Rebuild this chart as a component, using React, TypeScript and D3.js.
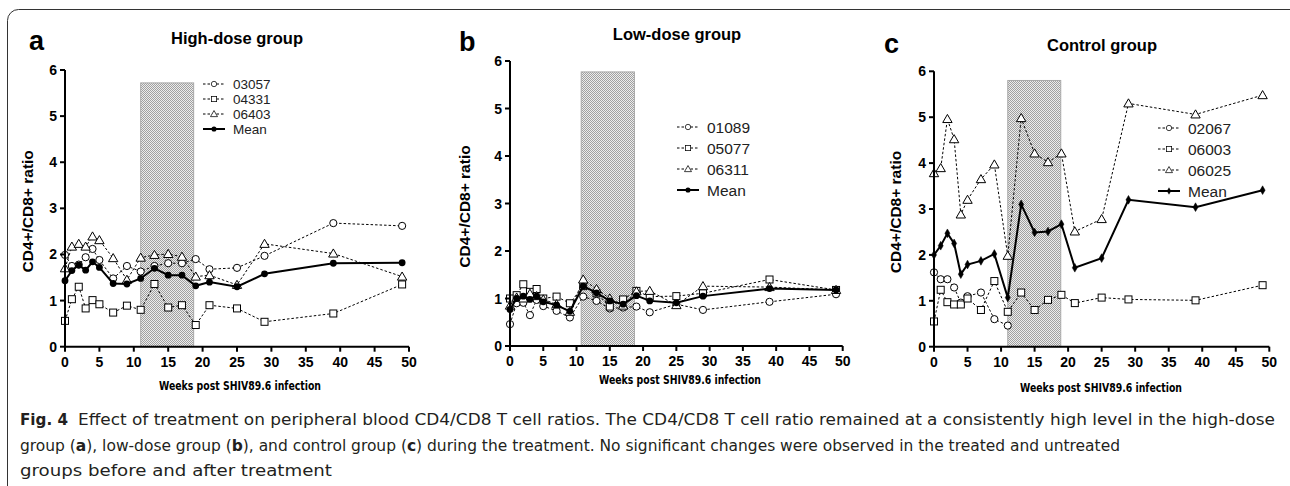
import React from "react";
import * as d3 from "d3";

// sampling weeks (same for every animal, 02067 died after week 11)
const weeks = [0, 1, 2, 3, 4, 5, 7, 9, 11, 13, 15, 17, 19, 21, 25, 29, 39, 49];
const weeks02067 = [0, 1, 2, 3, 4, 5, 7, 9, 11];

const xTicks = [0, 5, 10, 15, 20, 25, 30, 35, 40, 45, 50];
const yTicks = [0, 1, 2, 3, 4, 5, 6];

// high-dose group
const a03057 = [1.99, 1.75, 1.78, 1.94, 2.12, 1.88, 1.48, 1.75, 1.63, 1.75, 1.81, 1.81, 1.9, 1.68, 1.71, 1.97, 2.68, 2.62];
const a04331 = [0.56, 1.03, 1.3, 0.83, 1.01, 0.92, 0.74, 0.89, 0.8, 1.36, 0.85, 0.9, 0.47, 0.9, 0.83, 0.54, 0.72, 1.35];
const a06403 = [1.7, 2.17, 2.23, 2.17, 2.39, 2.31, 1.92, 1.45, 1.93, 1.99, 2.01, 1.95, 1.52, 1.55, 1.34, 2.23, 2.02, 1.52];
const aMean = [1.43, 1.65, 1.77, 1.66, 1.84, 1.72, 1.37, 1.36, 1.48, 1.7, 1.55, 1.55, 1.32, 1.4, 1.3, 1.58, 1.81, 1.82];

// low-dose group
const b01089 = [0.46, 0.9, 0.91, 0.65, 0.97, 0.84, 0.74, 0.6, 1.04, 0.95, 0.79, 0.81, 0.83, 0.71, 0.88, 0.76, 0.93, 1.09];
const b05077 = [1.0, 1.07, 1.3, 1.14, 1.2, 1.0, 1.04, 0.9, 1.26, 1.11, 0.83, 0.98, 1.16, 1.04, 1.05, 1.11, 1.4, 1.18];
const b06311 = [0.85, 1.02, 1.0, 1.1, 1.05, 0.98, 0.88, 0.72, 1.4, 1.2, 1.0, 0.85, 1.15, 1.16, 0.86, 1.26, 1.24, 1.18];
const bMean = [0.77, 1.0, 1.05, 0.98, 1.05, 0.93, 0.86, 0.73, 1.26, 1.12, 0.95, 0.88, 1.06, 0.95, 0.91, 1.05, 1.21, 1.18];

// control group
const c02067 = [1.62, 1.47, 1.47, 1.29, 0.96, 1.1, 1.18, 0.6, 0.46];
const c06003 = [0.55, 1.24, 0.97, 0.92, 0.92, 1.05, 0.8, 1.43, 0.76, 1.18, 0.8, 1.02, 1.13, 0.95, 1.07, 1.03, 1.01, 1.34];
const c06025 = [3.78, 3.89, 4.96, 4.52, 2.88, 3.2, 3.65, 3.97, 1.98, 4.98, 4.21, 4.02, 4.21, 2.51, 2.78, 5.3, 5.06, 5.48];
const cMean = [2.0, 2.2, 2.47, 2.25, 1.58, 1.79, 1.87, 2.02, 1.07, 3.1, 2.49, 2.51, 2.67, 1.72, 1.93, 3.2, 3.04, 3.41];

const ARIAL = "'Liberation Sans', Arial, sans-serif";
const NARROW = "'Liberation Sans Narrow', 'DejaVu Sans Condensed', sans-serif";

type Shape = "circle" | "square" | "triangle" | "dot" | "diamond";
type Series = { name: string; x: number[]; y: number[]; shape: Shape };

function Marker({ shape, x, y }: { shape: Shape; x: number; y: number }) {
  if (shape === "circle") return <circle cx={x} cy={y} r={3.6} fill="#fff" stroke="#000" strokeWidth={1} />;
  if (shape === "square") return <rect x={x - 3.5} y={y - 3.5} width={7} height={7} fill="#fff" stroke="#000" strokeWidth={1} />;
  if (shape === "dot") return <circle cx={x} cy={y} r={3.4} fill="#000" />;
  const type = shape === "triangle" ? d3.symbolTriangle : d3.symbolDiamond;
  const size = shape === "triangle" ? 38 : 22;
  const d = d3.symbol().type(type).size(size)() || "";
  return (
    <path
      d={d}
      transform={`translate(${x},${y + (shape === "triangle" ? 0.8 : 0)})`}
      fill={shape === "triangle" ? "#fff" : "#000"}
      stroke="#000"
      strokeWidth={shape === "triangle" ? 1 : 0.5}
    />
  );
}

type PanelCfg = {
  id: string;
  letter: string;
  letterX: number;
  letterY: number;
  title: string;
  titleX: number;
  titleY: number;
  x0: number;
  x50: number;
  yZero: number;
  ySix: number;
  shade: [number, number, number];
  legendX: number;
  legendY: number;
  legendStep: number;
  legendFont: number;
  yLabelX: number;
  xLabelX: number;
  xLabelY: number;
  series: Series[];
};

function Panel({ cfg }: { cfg: PanelCfg }) {
  const x = d3.scaleLinear().domain([0, 50]).range([cfg.x0, cfg.x50]);
  const y = d3.scaleLinear().domain([0, 6]).range([cfg.yZero, cfg.ySix]);
  const line = d3
    .line<[number, number]>()
    .x((d) => x(d[0]))
    .y((d) => y(d[1]));
  const [s0, s1, sTop] = cfg.shade;
  const yMid = (cfg.yZero + cfg.ySix) / 2 + 3;

  return (
    <g>
      <text x={cfg.letterX} y={cfg.letterY} fontFamily={ARIAL} fontWeight="bold" fontSize={27}>
        {cfg.letter}
      </text>
      <text x={cfg.titleX} y={cfg.titleY} textAnchor="middle" fontFamily={ARIAL} fontWeight="bold" fontSize={16.5}>
        {cfg.title}
      </text>

      {/* treatment period */}
      <rect
        x={x(s0)}
        y={y(sTop)}
        width={x(s1) - x(s0)}
        height={y(0) - y(sTop)}
        fill="url(#checker)"
        stroke="#a8a8a8"
        strokeWidth={1}
      />

      {cfg.series.map((s) => {
        const pts = s.x.map((w, i) => [w, s.y[i]] as [number, number]);
        const isMean = s.shape === "dot" || s.shape === "diamond";
        return (
          <g key={s.name}>
            <path
              d={line(pts) || ""}
              fill="none"
              stroke="#000"
              strokeWidth={isMean ? 2 : 1}
              strokeDasharray={isMean ? undefined : "2.5,2"}
            />
            {pts.map((p, i) => (
              <Marker key={i} shape={s.shape} x={x(p[0])} y={y(p[1])} />
            ))}
          </g>
        );
      })}

      {/* axes */}
      <line x1={x(0)} x2={x(50)} y1={y(0)} y2={y(0)} stroke="#000" strokeWidth={2} />
      <line x1={x(0)} x2={x(0)} y1={y(0) + 1} y2={y(6)} stroke="#000" strokeWidth={2} />
      {xTicks.map((t) => (
        <g key={"x" + t}>
          <line x1={x(t)} x2={x(t)} y1={y(0)} y2={y(0) + 5} stroke="#000" strokeWidth={2} />
          <text x={x(t)} y={y(0) + 20} textAnchor="middle" fontFamily={ARIAL} fontWeight="bold" fontSize={14}>
            {t}
          </text>
        </g>
      ))}
      {yTicks.map((t) => (
        <g key={"y" + t}>
          <line x1={x(0) - 5} x2={x(0)} y1={y(t)} y2={y(t)} stroke="#000" strokeWidth={2} />
          <text x={x(0) - 8} y={y(t) + 5} textAnchor="end" fontFamily={ARIAL} fontWeight="bold" fontSize={14}>
            {t}
          </text>
        </g>
      ))}

      <text
        transform={`translate(${cfg.yLabelX},${yMid}) rotate(-90)`}
        textAnchor="middle"
        fontFamily={ARIAL}
        fontWeight="bold"
        fontSize={15.5}
      >
        CD4+/CD8+ ratio
      </text>
      <text
        x={cfg.xLabelX}
        y={cfg.xLabelY}
        textAnchor="middle"
        fontFamily={NARROW}
        fontWeight="bold"
        fontSize={13}
        textLength={162}
        lengthAdjust="spacingAndGlyphs"
      >
        Weeks post SHIV89.6 infection
      </text>

      {/* legend */}
      {cfg.series.map((s, i) => {
        const ly = cfg.legendY + i * cfg.legendStep;
        const isMean = s.shape === "dot" || s.shape === "diamond";
        return (
          <g key={"lg" + s.name}>
            <line
              x1={cfg.legendX}
              x2={cfg.legendX + 22}
              y1={ly}
              y2={ly}
              stroke="#000"
              strokeWidth={isMean ? 2 : 1}
              strokeDasharray={isMean ? undefined : "2.5,2"}
            />
            <g transform={`translate(${cfg.legendX + 11},${ly}) scale(0.75)`}>
              <Marker shape={s.shape} x={0} y={0} />
            </g>
            <text x={cfg.legendX + 30} y={ly + cfg.legendFont * 0.36} fontFamily={ARIAL} fontSize={cfg.legendFont} fill="#222">
              {s.name}
            </text>
          </g>
        );
      })}
    </g>
  );
}

const panels: PanelCfg[] = [
  {
    id: "a",
    letter: "a",
    letterX: 29,
    letterY: 50,
    title: "High-dose group",
    titleX: 237,
    titleY: 44,
    x0: 65,
    x50: 409,
    yZero: 346.7,
    ySix: 70,
    shade: [11, 18.7, 5.72],
    legendX: 203,
    legendY: 84,
    legendStep: 15,
    legendFont: 13.5,
    yLabelX: 33,
    xLabelX: 240,
    xLabelY: 390,
    series: [
      { name: "03057", x: weeks, y: a03057, shape: "circle" },
      { name: "04331", x: weeks, y: a04331, shape: "square" },
      { name: "06403", x: weeks, y: a06403, shape: "triangle" },
      { name: "Mean", x: weeks, y: aMean, shape: "dot" },
    ],
  },
  {
    id: "b",
    letter: "b",
    letterX: 459,
    letterY: 51,
    title: "Low-dose group",
    titleX: 677,
    titleY: 40,
    x0: 510,
    x50: 842.7,
    yZero: 346,
    ySix: 61,
    shade: [10.7, 18.7, 5.77],
    legendX: 677,
    legendY: 127,
    legendStep: 21,
    legendFont: 15.5,
    yLabelX: 470,
    xLabelX: 680,
    xLabelY: 384,
    series: [
      { name: "01089", x: weeks, y: b01089, shape: "circle" },
      { name: "05077", x: weeks, y: b05077, shape: "square" },
      { name: "06311", x: weeks, y: b06311, shape: "triangle" },
      { name: "Mean", x: weeks, y: bMean, shape: "dot" },
    ],
  },
  {
    id: "c",
    letter: "c",
    letterX: 884,
    letterY: 53,
    title: "Control group",
    titleX: 1102,
    titleY: 51,
    x0: 934,
    x50: 1269.3,
    yZero: 346.7,
    ySix: 71.3,
    shade: [11, 18.9, 5.8],
    legendX: 1158,
    legendY: 128,
    legendStep: 21,
    legendFont: 15.5,
    yLabelX: 901,
    xLabelX: 1101,
    xLabelY: 392,
    series: [
      { name: "02067", x: weeks02067, y: c02067, shape: "circle" },
      { name: "06003", x: weeks, y: c06003, shape: "square" },
      { name: "06025", x: weeks, y: c06025, shape: "triangle" },
      { name: "Mean", x: weeks, y: cMean, shape: "diamond" },
    ],
  },
];

export default function App() {
  return (
    <svg
      width={1290}
      height={486}
      style={{ position: "absolute", left: 0, top: 0, background: "#fff" }}
    >
      <defs>
        <pattern id="checker" width={2} height={2} patternUnits="userSpaceOnUse">
          <rect width={2} height={2} fill="#ececec" />
          <rect width={1} height={1} fill="#a0a0a0" />
          <rect x={1} y={1} width={1} height={1} fill="#a0a0a0" />
        </pattern>
      </defs>
      <rect width={1290} height={486} fill="#fff" />
      <rect x={7.5} y={9.5} width={1300} height={520} rx={11} fill="none" stroke="#333" strokeWidth={1} />

      {panels.map((p) => (
        <Panel key={p.id} cfg={p} />
      ))}

      {/* caption */}
      <g fontFamily={NARROW} fontSize={16} fill="#231f20">
        <text x={20} y={425} fontWeight="bold" textLength={48} lengthAdjust="spacingAndGlyphs">
          Fig. 4
        </text>
        <text x={78} y={425} textLength={1197} lengthAdjust="spacingAndGlyphs">
          Effect of treatment on peripheral blood CD4/CD8 T cell ratios. The CD4/CD8 T cell ratio remained at a consistently high level in the high-dose
        </text>
        <text x={20} y={451} textLength={1100} lengthAdjust="spacingAndGlyphs">
          group (<tspan fontWeight="bold">a</tspan>), low-dose group (<tspan fontWeight="bold">b</tspan>), and control group (<tspan fontWeight="bold">c</tspan>) during the treatment. No significant changes were observed in the treated and untreated
        </text>
        <text x={20} y={476} textLength={312} lengthAdjust="spacingAndGlyphs">
          groups before and after treatment
        </text>
      </g>
    </svg>
  );
}
